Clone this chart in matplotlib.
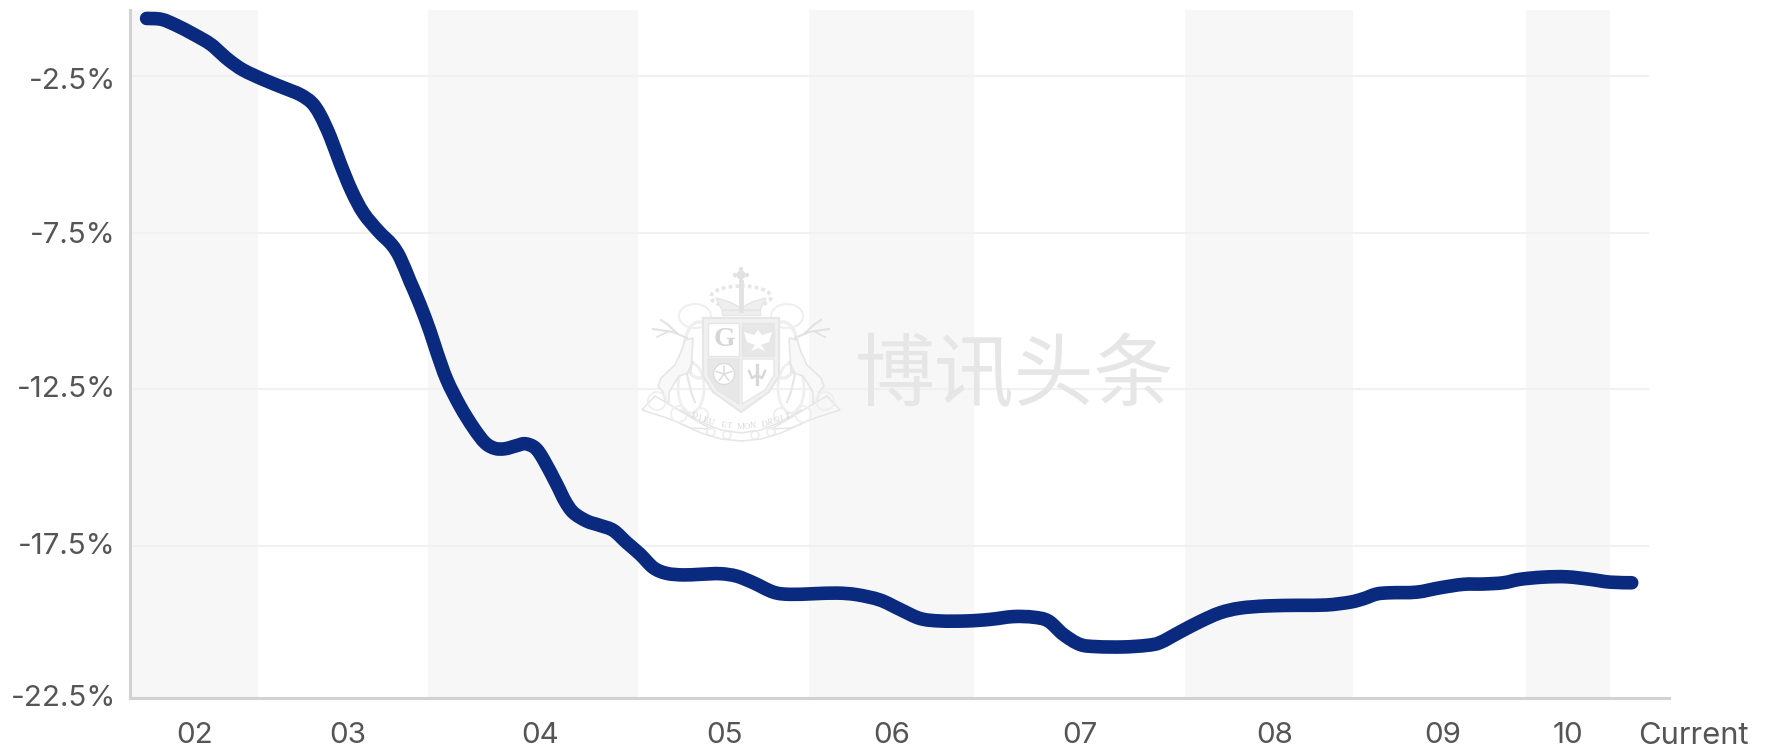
import numpy as np
import matplotlib
matplotlib.use("Agg")
import matplotlib.pyplot as plt
from matplotlib.patches import Polygon, Circle, Rectangle, Ellipse, PathPatch
from matplotlib.path import Path

plt.rcParams['font.family'] = ['Inter', 'DejaVu Sans']

x_pos = [129.7,143,156.3,171,185.8,196,203.4,215.2,232.9,250.6,265.4,275.7,283,291.9,300.7,311,321.4,334.6,346.4,353.8,362.6,371.5,380.3,386.2,395.1,406.9,418.7,429,437.8,446.7,457,464.4,473.2,480.6,492.4,499.7,507.1,518.9,530.7,542.5,554.3,566.1,577.9,589.6,604.4,619.1,636.8,651.6,666.3,684,698.7,719.3,739.9,757.6,778.2,795.9,813.6,831.3,854.9,875.5,896.2,913.9,927.1,940.4,955.1,969.9,993.5,1014.1,1025.9,1043.6,1061.2,1078.9,1096.6,1120.2,1149.6,1173.2,1193.9,1205.7,1217.4,1229.2,1252.8,1273.5,1294.1,1311.8,1329.5,1344.2,1364.9,1385.5,1406.1,1423.8,1443]
values = [-0.66,-0.69,-0.885,-1.16,-1.47,-1.79,-2.02,-2.31,-2.61,-2.87,-3.09,-3.35,-3.73,-4.42,-5.27,-6.17,-6.87,-7.45,-7.88,-8.30,-9.05,-9.80,-10.65,-11.30,-12.19,-13.04,-13.73,-14.21,-14.39,-14.40,-14.30,-14.24,-14.37,-14.74,-15.54,-16.07,-16.44,-16.71,-16.85,-17.01,-17.40,-17.77,-18.20,-18.38,-18.43,-18.41,-18.39,-18.47,-18.68,-18.98,-19.05,-19.03,-19.01,-19.06,-19.23,-19.53,-19.82,-19.90,-19.90,-19.85,-19.76,-19.78,-19.90,-20.33,-20.65,-20.72,-20.73,-20.68,-20.59,-20.25,-19.92,-19.64,-19.49,-19.42,-19.40,-19.39,-19.30,-19.19,-19.04,-19.00,-18.98,-18.84,-18.73,-18.72,-18.68,-18.57,-18.50,-18.49,-18.57,-18.66,-18.68]

x_labels = ['02','03','04','05','06','07','08','09','10','Current']
x_label_pos = [172,308,478,641,789,955,1127,1276,1387,1498]
band_edges = [(115,228.5),(378.2,564),(715.5,861.4),(1048,1196.3),(1349.5,1423.8)]
y_grid = [-2.5,-7.5,-12.5,-17.5]
y_tick_pos = [-2.57,-7.5,-12.4,-17.43,-22.29]
y_tick_labels = ['-2.5%','-7.5%','-12.5%','-17.5%','-22.5%']

W, H = 1773, 752
fig = plt.figure(figsize=(W/100, H/100), dpi=100, facecolor='white')
ax = fig.add_axes([130/W, 1-698/H, (1764-130)/W, (698-10)/H])

for a, b in band_edges:
    ax.axvspan(a, b, color='#f7f7f7', lw=0, zorder=0)
ax.hlines(y_grid, 115, 1458, color='#f1f1f1', lw=1.5, zorder=1)

# smooth curve through the data points (Catmull-Rom as cubic Bezier segments)
px = np.array(x_pos, float); py = np.array(values, float)
verts = [(px[0], py[0])]; codes = [Path.MOVETO]
for i in range(len(px)-1):
    p0 = max(i-1, 0); p3 = min(i+2, len(px)-1)
    c1 = (px[i]+(px[i+1]-px[p0])/6, py[i]+(py[i+1]-py[p0])/6)
    c2 = (px[i+1]-(px[p3]-px[i])/6, py[i+1]-(py[p3]-py[i])/6)
    verts += [c1, c2, (px[i+1], py[i+1])]
    codes += [Path.CURVE4]*3
ax.add_patch(PathPatch(Path(verts, codes), fc='none', ec='#0a2a7f', lw=9.8,
                       capstyle='round', joinstyle='round', zorder=5, clip_on=False))

for s in ('top', 'right'):
    ax.spines[s].set_visible(False)
for s in ('left', 'bottom'):
    ax.spines[s].set_color('#d2d2d2')
    ax.spines[s].set_linewidth(2.2)
ax.set_xticks(x_label_pos, x_labels)
ax.set_yticks(y_tick_pos, y_tick_labels)
ax.set_xlim(115, 1560)
ax.set_ylim(-22.36, -0.39)
ax.spines['bottom'].set_bounds(115, 1476)
ax.tick_params(axis='both', length=0, labelsize=21.3, labelcolor='#555555')
ax.tick_params(axis='x', pad=17)
ax.tick_params(axis='y', pad=10)
ax.get_xticklabels()[-1].set_fontsize(22.3)

# Watermark overlay in image pixel coordinates
ov = fig.add_axes([0, 0, 1, 1], facecolor='none')
ov.set_xlim(0, W); ov.set_ylim(H, 0); ov.axis('off')
wm = '#e6e6e6'
wm2 = '#efefef'
ov.text(1015, 377, '博讯头条', fontsize=57.5, color=wm, ha='center', va='center',
        family=['Noto Sans CJK SC'], weight='light')

# supporters, drawn first so the shield sits on top; mirrored about the shield axis
for side in (-1, 1):
    X = lambda v: 741+side*v
    ov.add_patch(Ellipse((X(46),316),32,24,fc='none',ec=wm2,lw=1.5))
    ov.add_patch(Ellipse((X(42),350),30,56,fc='none',ec=wm2,lw=2.5))
    ov.add_patch(Ellipse((X(50),388),26,50,fc='none',ec=wm2,lw=2))
    ov.plot([X(54),X(68),X(88)],[338,332,329],color='#e2e2e2',lw=1.5)
    ov.plot([X(64),X(74),X(80)],[333,324,320],color='#e2e2e2',lw=1.5)
    ov.plot([X(72),X(84)],[331,337],color='#e2e2e2',lw=1.2)
    ov.add_patch(Polygon([(X(48),338),(X(56),340),(X(60),352),(X(66),365),(X(80),378),(X(83),386),(X(78),392),
                          (X(76),402),(X(72),402),(X(72),392),(X(62),376),(X(50),372)],fc='#f8f8f8',ec=wm,lw=1.2))
    ov.plot([X(48),X(54),X(50),X(46)],[362,374,392,402],color=wm,lw=1.5)
    # scroll and banner
    ov.add_patch(Polygon([(X(99),410),(X(86),396),(X(74),403),(X(46),420),(X(30),429),(X(50),428),(X(74),418)],fc='none',ec=wm,lw=1.1))
    for cx, cy, r in ((84,401,9),(62,414,8),(40,415,7),(30,432,4),(14,435,4)):
        ov.add_patch(Circle((X(cx),cy),r,fc='none',ec=wm2,lw=1.3))
# ribbon
xs = np.array([-60,-40,-20,0,20,40,60])+741
ov.plot(xs,[410,422,430,433,430,422,410],color=wm,lw=1.1)
ov.plot(xs,[424,433,439,441,439,433,424],color=wm,lw=1.1)
motto = 'DIEU ET MON DROIT'
for i, ch in enumerate(motto):
    u = (i-(len(motto)-1)/2)/((len(motto)-1)/2)
    ov.text(741+u*47, 427-11*u*u, ch, fontsize=6.2, color='#d9d9d9', ha='center', va='center',
            family='Liberation Serif', rotation=u*14, rotation_mode='anchor')

# shield
ov.add_patch(Polygon([(703,318),(779,318),(779,376),(769,392),(741,412),(713,392),(703,376)],
                     closed=True, fc='#f1f1f1', ec=wm, lw=1.5))
ov.add_patch(Rectangle((708,323),31,33,fc='white',ec=wm,lw=1))
ov.add_patch(Rectangle((742,323),32,33,fc='#e7e7e7',ec=wm,lw=1))
ov.add_patch(Polygon([(708,359),(739,359),(739,404),(717,390),(708,375)],fc='#e7e7e7',ec=wm,lw=1))
ov.add_patch(Polygon([(742,359),(774,359),(774,375),(765,390),(742,404)],fc='white',ec=wm,lw=1))
ov.text(724,340,'G',fontsize=20,color='#d6d6d6',ha='center',va='center',family='Liberation Serif',weight='bold')
# eagle
ov.add_patch(Polygon([(758,330),(762,335),(772,332),(769,342),(761,345),(765,351),(758,348),(751,351),(755,345),(747,342),(744,332),(754,335)],fc='white',ec='none'))
# rose
ov.add_patch(Circle((724,374),10.5,fc='white',ec='#dcdcdc',lw=1))
for ang in np.deg2rad([90,162,234,306,18]):
    ov.plot([724,724+8*np.cos(ang)],[374,374-8*np.sin(ang)],color='#dcdcdc',lw=1.1)
# fleur-de-lis
ov.plot([757,757],[365,384],color='#d8d8d8',lw=2.4)
ov.plot([749,752,757,762,765],[371,378,375,378,371],color='#d8d8d8',lw=1.8)
# crown
ov.add_patch(Ellipse((741,297),60,22,fc='none',ec=wm,lw=2.6,ls=(0,(1,0.9))))
ov.add_patch(Polygon([(722,310),(716,298),(730,302),(741,308),(752,302),(766,298),(760,310)],fc=wm2,ec=wm,lw=1))
ov.add_patch(Rectangle((722,310),38,5,fc=wm2,ec=wm,lw=1))
ov.plot([741,741],[282,310],color='#e2e2e2',lw=3.5)
ov.add_patch(Circle((741,275),4.5,fc='#e2e2e2',ec='none'))
for dx, dy in ((0,-6),(0,6),(-6,0),(6,0)):
    ov.add_patch(Circle((741+dx,275+dy),2.2,fc='#e2e2e2',ec='none'))

fig.savefig('out.png', dpi=100)
